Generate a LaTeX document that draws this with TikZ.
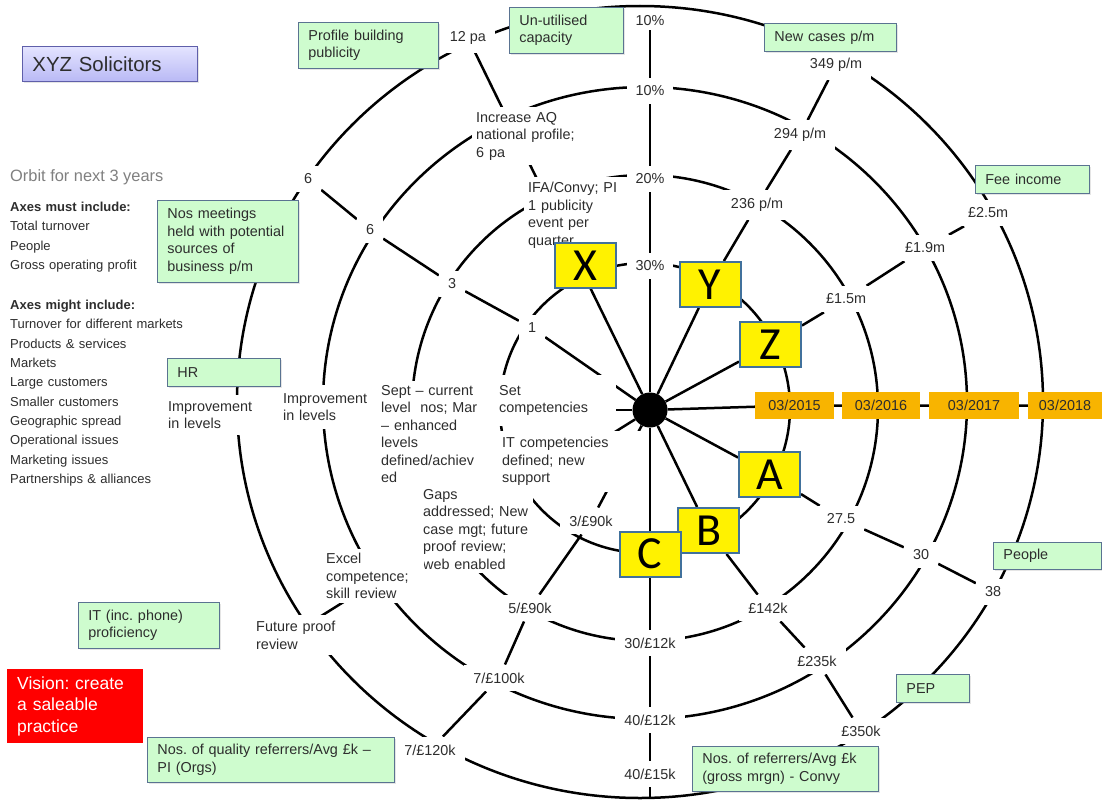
\documentclass[tikz,border=0pt]{standalone}
\usepackage{fontspec}
\setmainfont{Liberation Sans}
\newfontfamily\calibfont{Carlito}
\usetikzlibrary{shadows}
\definecolor{gfill}{RGB}{206,252,206}
\definecolor{gbord}{RGB}{90,115,145}
\definecolor{ybord}{RGB}{65,113,156}
\definecolor{dorange}{RGB}{248,180,0}
\definecolor{txtc}{RGB}{45,45,45}
\definecolor{lavtop}{RGB}{228,228,255}
\definecolor{lavbot}{RGB}{185,185,245}
\definecolor{lavbord}{RGB}{95,95,170}
\definecolor{orbitgray}{RGB}{128,128,128}
\newcommand\labfont{\fontsize{14.4}{17.5}\selectfont}
\newcommand\lstfont{\fontsize{13}{19.3}\selectfont}
\pgfdeclarelayer{background}
\pgfsetlayers{background,main}
\tikzset{
  ring/.style={line width=2.5pt},
  spoke/.style={line width=2.5pt},
  lbl/.style={fill=white, inner xsep=9pt, inner ysep=8pt, font=\labfont, text=txtc},
  blk/.style={fill=white, inner sep=4pt, font=\labfont, text=txtc, align=left, anchor=north west},
  gbox/.style={draw=gbord, fill=gfill, line width=0.8pt, font=\labfont, text=txtc, align=left,
    anchor=north west, inner xsep=10pt, inner ysep=2pt,
    drop shadow={opacity=0.2, shadow xshift=1.5pt, shadow yshift=-1.5pt}},
  ybox/.style={draw=ybord, fill=yellow, line width=2pt, minimum width=61pt, minimum height=45pt,
    inner sep=0pt, font=\calibfont\fontsize{46}{46}\selectfont},
  dbox/.style={fill=dorange, minimum height=27pt, inner sep=0pt, font=\labfont, text=txtc},
}
\frenchspacing
\begin{document}
\frenchspacing
\begin{tikzpicture}[x=1pt,y=-1pt]
\useasboundingbox (0,0) rectangle (1102,800);

% centre
\node[circle, fill=black, minimum size=35pt, inner sep=0pt] (dot) at (650,410) {};

% top axis labels
\node[lbl] (t1) at (650,266) {30\%};
\node[lbl] (t2) at (650,179) {20\%};
\node[lbl] (t3) at (650,91) {10\%};
\node[lbl, inner ysep=4pt] (t4) at (650,21) {10\%};
% Y axis
\node[lbl] (y1) at (757,205) {236 p/m};
\node[lbl] (y2) at (800,135) {294 p/m};
\node[lbl] (y3) at (836,65) {349 p/m};
% Z axis
\node[lbl] (z1) at (846,299) {£1.5m};
\node[lbl] (z2) at (925,248) {£1.9m};
\node[lbl] (z3) at (988,213) {£2.5m};
% A axis
\node[lbl] (a1) at (841,519) {27.5};
\node[lbl] (a2) at (921,555) {30};
\node[lbl] (a3) at (993,592) {38};
% B axis
\node[lbl] (b1) at (768,608) {£142k};
\node[lbl] (b2) at (817,661) {£235k};
\node[lbl] (b3) at (861,731) {£350k};
% C axis
\node[lbl] (c1) at (650,643) {30/£12k};
\node[lbl] (c2) at (650,720) {40/£12k};
\node[lbl] (c3) at (650,774) {40/£15k};
\coordinate (cend) at (650,797);
% lower-left axis
\node[lbl] (l1) at (591,521) {3/£90k};
\node[lbl] (l2) at (530,608) {5/£90k};
\node[lbl] (l3) at (499,678) {7/£100k};
\node[lbl] (l4) at (430,750) {7/£120k};
% upper-left axis
\node[lbl] (u1) at (532,328) {1};
\node[lbl] (u2) at (452,284) {3};
\node[lbl] (u3) at (370,230) {6};
\node[lbl] (u4) at (308,179) {6};
% X axis end
\node[lbl] (p12) at (468,38) {12 pa};

% text blocks
\node[blk, text width=94pt, inner ysep=5pt] (ifa) at (524,177) {IFA/Convy; PI\\1 publicity\\event per\\quarter};
\node[blk, text width=100pt, inner ysep=5pt] (incr) at (472,107) {Increase AQ\\national profile;\\6 pa};
\node[blk, text width=113pt, inner ysep=10pt] (setc) at (495,375) {Set\\competencies};
\node[blk, text width=136pt, inner ysep=6pt] (itc) at (498,431) {IT competencies\\defined; new\\support};
\node[blk, text width=100pt] (sept) at (377,381) {Sept -- current\\level\ \ nos; Mar\\-- enhanced\\levels\\defined/achiev\\ed};
\node[blk, text width=106pt] (gaps) at (419,485) {Gaps\\addressed; New\\case mgt; future\\proof review;\\web enabled};
\node[blk, text width=94pt] (excel) at (322,549) {Excel\\competence;\\skill review};
\node[blk, text width=82pt, inner ysep=6pt] (fut) at (252,615) {Future proof\\review};
\node[blk, text width=86pt, inner ysep=8pt] (imp1) at (279,385) {Improvement\\in levels};
\node[blk, text width=84pt, inner ysep=6pt] (imp2) at (164,395) {Improvement\\in levels};
\coordinate (fpend) at (318,618);

% yellow boxes
\node[ybox] (Xb) at (585.5,265.5) {X};
\node[ybox] (Yb) at (710,284.5) {Y};
\node[ybox] (Zb) at (770.5,344.5) {Z};
\node[ybox] (Ab) at (769.5,474.5) {A};
\node[ybox] (Bb) at (708.5,530.5) {B};
\node[ybox] (Cb) at (650,554) {C};

% date boxes
\node[dbox, minimum width=79pt] (d15) at (794.5,405.5) {03/2015};
\node[dbox, minimum width=78pt] (d16) at (881,405.5) {03/2016};
\node[dbox, minimum width=90pt] (d17) at (974,405.5) {03/2017};
\node[dbox, minimum width=74pt] (d18) at (1065,405.5) {03/2018};

% rings and spokes
\begin{pgfonlayer}{background}
\fill[white] (0,0) rectangle (1102,800);
\draw[ring] (645,408) circle[radius=145];
\draw[ring] (645,408) circle[radius=233];
\draw[ring] (645,403) ellipse[x radius=322, y radius=316];
\draw[ring] (640,402) ellipse[x radius=403, y radius=396];
\draw[spoke] (dot) -- (t1) -- (t2) -- (t3) -- (t4);
\draw[spoke] (dot) -- (Yb) -- (y1) -- (y2) -- (y3);
\draw[spoke] (dot) -- (Zb) -- (z1) -- (z2) -- (z3);
\draw[spoke] (dot) -- (d15) -- (d16) -- (d17) -- (d18);
\draw[spoke] (dot) -- (Ab) -- (a1) -- (a2) -- (a3);
\draw[spoke] (dot) -- (Bb) -- (b1) -- (b2) -- (b3);
\draw[spoke] (dot) -- (Cb) -- (c1) -- (c2) -- (c3) -- (cend);
\draw[spoke] (dot) -- (l1) -- (l2) -- (l3) -- (l4);
\draw[spoke] (dot) -- (u1) -- (u2) -- (u3) -- (u4);
\draw[spoke] (dot) -- (p12);
\draw[spoke] (dot) -- (dot -| setc.east);
\draw[spoke] (dot) -- (fpend);
\end{pgfonlayer}

% green boxes
\node[gbox, minimum width=140pt, minimum height=46pt, text width=120pt] (prof) at (298,22) {Profile building\\publicity};
\node[gbox, minimum width=114pt, minimum height=46pt, text width=94pt] (unut) at (509,7) {Un-utilised\\capacity};
\node[gbox, minimum width=132pt, minimum height=28pt, text width=112pt] (newc) at (764,23) {New cases p/m};
\node[gbox, minimum width=114pt, minimum height=28pt, text width=94pt] (fee) at (975,165) {Fee income};
\node[gbox, minimum width=108pt, minimum height=27pt, text width=88pt] (peop) at (993,542) {People};
\node[gbox, minimum width=73pt, minimum height=28pt, text width=53pt] (pep) at (896,674) {PEP};
\node[gbox, minimum width=186pt, minimum height=45pt, text width=166pt] (convy) at (692,746) {Nos. of referrers/Avg £k\\(gross mrgn) - Convy};
\node[gbox, minimum width=247pt, minimum height=45pt, text width=227pt] (qual) at (147,737) {Nos. of quality referrers/Avg £k --\\PI (Orgs)};
\node[gbox, minimum width=141pt, minimum height=46pt, text width=121pt] (itp) at (78,602) {IT (inc. phone)\\proficiency};
\node[gbox, minimum width=113pt, minimum height=28pt, text width=93pt] (hr) at (167,358) {HR};
\node[gbox, minimum width=141pt, minimum height=82pt, text width=121pt] (nosm) at (157,200) {Nos meetings\\held with potential\\sources of\\business p/m};

% title and left column
\node[draw=lavbord, line width=0.8pt, top color=lavtop, bottom color=lavbot, anchor=north west,
  minimum width=175pt, minimum height=35pt, text width=155pt, inner xsep=10pt, inner ysep=0pt,
  align=left, font=\fontsize{20.4}{24}\selectfont, text=txtc,
  drop shadow={opacity=0.2, shadow xshift=1.5pt, shadow yshift=-1.5pt}] (title) at (22,46) {XYZ Solicitors};
\node[anchor=base west, inner sep=0pt, font=\fontsize{16.4}{19}\selectfont, text=orbitgray] (orbit) at (10,181.5) {Orbit for next 3 years};
\node[anchor=north west, inner sep=0pt, align=left, text width=160pt, font=\lstfont, text=txtc] (must) at (10,202)
  {\textbf{Axes must include:}\\Total turnover\\People\\Gross operating profit};
\node[anchor=north west, inner sep=0pt, align=left, text width=190pt, font=\lstfont, text=txtc] (might) at (10,300)
  {\textbf{Axes might include:}\\Turnover for different markets\\Products \& services\\Markets\\Large customers\\Smaller customers\\Geographic spread\\Operational issues\\Marketing issues\\Partnerships \& alliances};
\node[fill=red, anchor=north west, minimum width=136pt, minimum height=74pt, text width=116pt,
  inner xsep=10pt, inner ysep=0pt, align=left, text=white, font=\fontsize{17.5}{21.5}\selectfont] (vision) at (7,669)
  {Vision: create\\a saleable\\practice};
\end{tikzpicture}
\end{document}
